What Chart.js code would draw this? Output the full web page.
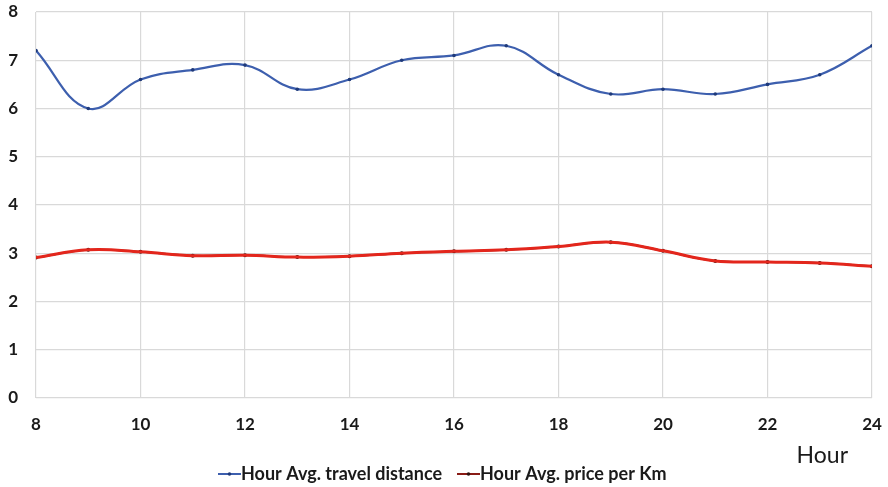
<!DOCTYPE html>
<html>
<head>
<meta charset="utf-8">
<script src="https://cdn.jsdelivr.net/npm/chart.js@4/dist/chart.umd.min.js"></script>
<style>
  html, body { margin: 0; padding: 0; background: #ffffff; }
  #wrap { width: 888px; height: 487px; position: relative; }
</style>
</head>
<body>
<div id="wrap"><canvas id="chart" width="888" height="487"></canvas></div>
<script>
// Hours of the day (x values)
const hours = [8, 9, 10, 11, 12, 13, 14, 15, 16, 17, 18, 19, 20, 21, 22, 23, 24];
// Average travel distance per hour
const travelDistance = [7.2, 6.0, 6.6, 6.8, 6.9, 6.4, 6.6, 7.0, 7.1, 7.3, 6.7, 6.3, 6.4, 6.3, 6.5, 6.7, 7.3];
// Average price per Km per hour
const pricePerKm = [2.91, 3.07, 3.03, 2.95, 2.96, 2.92, 2.94, 3.0, 3.04, 3.07, 3.14, 3.23, 3.05, 2.84, 2.82, 2.8, 2.73];
// Axis ticks
const xTicks = [8, 10, 12, 14, 16, 18, 20, 22, 24];
const yTicks = [0, 1, 2, 3, 4, 5, 6, 7, 8];
const seriesNames = ['Hour Avg. travel distance', 'Hour Avg. price per Km'];
const xTitle = 'Hour';

const FONT = 'Lato, "Open Sans", sans-serif';
const BLUE = '#3d5fae';
const RED = '#e3261c';
const DARK = '#2e1210';

const toPts = arr => hours.map((h, i) => ({ x: h, y: arr[i] }));

// Legend and axis title drawn under the plot
const bottomText = {
  id: 'bottomText',
  afterDraw(chart) {
    const ctx = chart.ctx;
    ctx.save();
    ctx.fillStyle = '#1a1a1a';
    ctx.textBaseline = 'middle';
    ctx.font = '23px ' + FONT;
    ctx.textAlign = 'right';
    ctx.fillText(xTitle, 848, 456);

    ctx.font = 'bold 18px ' + FONT;
    ctx.textAlign = 'left';
    const y = 474;
    const items = [
      { x: 218, color: BLUE, dot: '#1f3a7a', text: seriesNames[0] },
      { x: 457, color: '#8a1c16', dot: DARK, text: seriesNames[1] }
    ];
    items.forEach(it => {
      ctx.strokeStyle = it.color;
      ctx.lineWidth = 2;
      ctx.beginPath();
      ctx.moveTo(it.x, y);
      ctx.lineTo(it.x + 23, y);
      ctx.stroke();
      ctx.fillStyle = it.dot;
      ctx.beginPath();
      ctx.arc(it.x + 11.5, y, 1.8, 0, Math.PI * 2);
      ctx.fill();
      ctx.fillStyle = '#1a1a1a';
      ctx.fillText(it.text, it.x + 23, y);
    });
    ctx.restore();
  }
};

new Chart(document.getElementById('chart'), {
  type: 'line',
  data: {
    datasets: [
      {
        label: seriesNames[0],
        data: toPts(travelDistance),
        borderColor: BLUE,
        borderWidth: 2.2,
        pointRadius: 1.8,
        pointBackgroundColor: '#1f3a7a',
        pointBorderWidth: 0,
        tension: 0.4
      },
      {
        label: seriesNames[1],
        data: toPts(pricePerKm),
        borderColor: RED,
        borderWidth: 3,
        pointRadius: 0,
        tension: 0.4
      },
      {
        label: seriesNames[1] + ' core',
        data: toPts(pricePerKm),
        borderColor: DARK,
        borderWidth: 1.8,
        pointRadius: 2,
        pointBackgroundColor: DARK,
        pointBorderWidth: 0,
        tension: 0.4
      }
    ]
  },
  options: {
    responsive: false,
    animation: false,
    layout: { padding: { left: 0, right: 16, top: 12, bottom: 0 } },
    plugins: { legend: { display: false }, tooltip: { enabled: false } },
    scales: {
      x: {
        type: 'linear',
        min: 8, max: 24,
        afterBuildTicks: s => { s.ticks = xTicks.map(v => ({ value: v })); },
        afterFit: s => { s.height = 89; s.paddingLeft = 0; s.paddingRight = 0; },
        grid: { color: '#d9d9d9', lineWidth: 1.2, drawTicks: false },
        border: { display: false },
        ticks: {
          padding: 16,
          color: '#1a1a1a',
          font: { family: FONT, size: 17, weight: 'bold' },
          maxRotation: 0
        }
      },
      y: {
        min: 0, max: 8,
        afterBuildTicks: s => { s.ticks = yTicks.map(v => ({ value: v })); },
        afterFit: s => { s.width = 36; s.paddingTop = 0; s.paddingBottom = 0; },
        grid: { color: '#d9d9d9', lineWidth: 1.2, drawTicks: false },
        border: { display: false },
        ticks: {
          padding: 18,
          color: '#1a1a1a',
          font: { family: FONT, size: 17, weight: 'bold' }
        }
      }
    }
  },
  plugins: [bottomText]
});
</script>
</body>
</html>
